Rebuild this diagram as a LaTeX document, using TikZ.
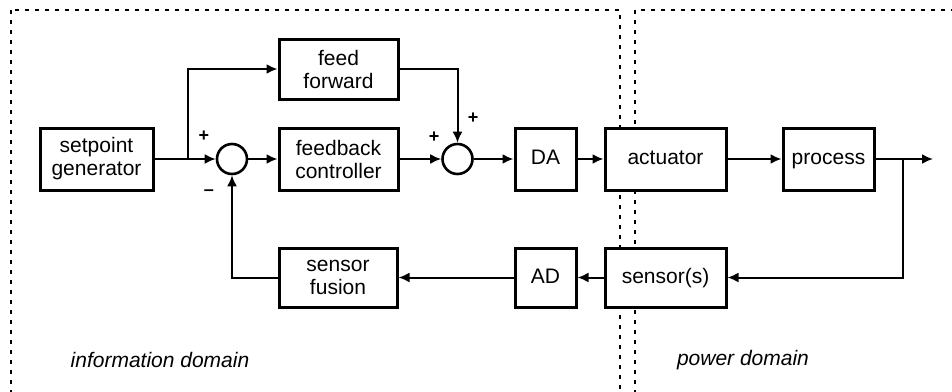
\documentclass[tikz,border=0pt]{standalone}
\usepackage{fontspec}
\setmainfont{Liberation Sans}
\usetikzlibrary{arrows.meta}
\tikzset{%
	% Style of the blocks
	Block/.style={rectangle,draw=black,fill=white,line width=1.5pt,minimum height=31pt,inner sep=1pt,align=center,font=\fontsize{10.5}{11.5}\selectfont},
	% Blocks with a single line of text
	OneLine/.style={text height=7.5pt,text depth=2pt},
	% Style of the summing points
	SumNode/.style={circle,draw=black,line width=1.3pt,inner sep=0,minimum size=15pt},
	% Style of the signs at the summing points
	SignName/.style={font=\fontsize{9}{9}\selectfont\bfseries,inner sep=0},
	% Style of the domain labels
	DomainName/.style={font=\fontsize{10.5}{11.5}\selectfont\itshape,inner sep=0},
	% Style of the signal lines
	Connection/.style={line width=1pt,-{Latex[length=5.5pt,width=5pt]}},
	% Style of the domain frames
	Frame/.style={line width=1pt,dash pattern=on 2pt off 3pt},
}
\begin{document}
\begin{tikzpicture}[x=0.5pt,y=-0.5pt]

\useasboundingbox (0,0) rectangle (952,391);
\clip (0,0) rectangle (952,391);

%~~~~~~~~~~~~~~~~~~~~~~~~~~~~~~~~~~~~~~~~~~~~~~~~~~
% Domains
%~~~~~~~~~~~~~~~~~~~~~~~~~~~~~~~~~~~~~~~~~~~~~~~~~~
\draw[Frame] (11,10) rectangle (620,420);
\draw[Frame] (635,10) rectangle (990,420);
\node[DomainName] (InfoDomain) at (160,360) {information domain};
\node[DomainName] (PowerDomain) at (743,360) {power domain};

%~~~~~~~~~~~~~~~~~~~~~~~~~~~~~~~~~~~~~~~~~~~~~~~~~~
% Set Blocks
%~~~~~~~~~~~~~~~~~~~~~~~~~~~~~~~~~~~~~~~~~~~~~~~~~~
\node[Block, minimum width=56.5pt] (Setpoint) at (96.5,159) {setpoint\\generator};
\node[Block, minimum width=59.5pt, minimum height=30pt] (FeedForward) at (338.5,69) {feed\\forward};
\node[Block, minimum width=59.5pt] (Controller) at (338.5,159) {feedback\\controller};
\node[Block, OneLine, minimum width=30.5pt] (DA) at (545.5,159) {DA};
\node[Block, OneLine, minimum width=60.5pt] (Actuator) at (665.5,159) {actuator};
\node[Block, OneLine, minimum width=45.5pt] (Process) at (828.5,159) {process};
\node[Block, OneLine, minimum width=60.5pt, minimum height=29.5pt] (Sensor) at (665.5,277.5) {sensor(s)};
\node[Block, OneLine, minimum width=30.5pt, minimum height=29.5pt] (AD) at (545.5,277.5) {AD};
\node[Block, minimum width=59pt, minimum height=29.5pt] (Fusion) at (338,277.5) {sensor\\fusion};

%~~~~~~~~~~~~~~~~~~~~~~~~~~~~~~~~~~~~~~~~~~~~~~~~~~
% Set Summing Points
%~~~~~~~~~~~~~~~~~~~~~~~~~~~~~~~~~~~~~~~~~~~~~~~~~~
\node[SumNode] (Sum1) at (232,159) {};
\node[SignName] at (204,136) {+};
\node[SignName] at (209,193) {–};

\node[SumNode] (Sum2) at (457.5,159) {};
\node[SignName] at (434,137) {+};
\node[SignName] at (473,118) {+};

\coordinate (Split) at (188,159);
\coordinate (Branch) at (903,159);
\coordinate (Output) at (933,159);

%~~~~~~~~~~~~~~~~~~~~~~~~~~~~~~~~~~~~~~~~~~~~~~~~~~
% Set Branches
%~~~~~~~~~~~~~~~~~~~~~~~~~~~~~~~~~~~~~~~~~~~~~~~~~~
\draw[Connection] (Setpoint) -- (Sum1);
\draw[Connection] (Split) |- (FeedForward);
\draw[Connection] (FeedForward) -| (Sum2);
\draw[Connection] (Sum1) -- (Controller);
\draw[Connection] (Controller) -- (Sum2);
\draw[Connection] (Sum2) -- (DA);
\draw[Connection] (DA) -- (Actuator);
\draw[Connection] (Actuator) -- (Process);
\draw[Connection] (Process) -- (Output);

% feedback path
\draw[Connection] (Branch) |- (Sensor);
\draw[Connection] (Sensor) -- (AD);
\draw[Connection] (AD) -- (Fusion);
\draw[Connection] (Fusion) -| (Sum1);

\end{tikzpicture}
\end{document}
